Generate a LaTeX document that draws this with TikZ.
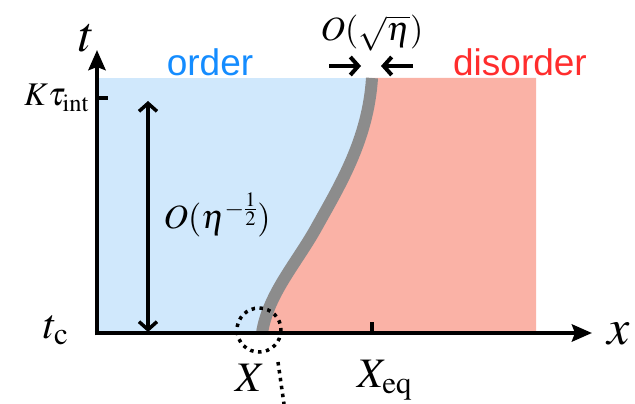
\documentclass[tikz,border=0pt]{standalone}
\usepackage{mathptmx}
\usepackage[no-math]{fontspec}
\setmainfont{Liberation Serif}
\newfontfamily\regionfont{Liberation Sans}
\usetikzlibrary{arrows.meta}
\definecolor{orderblue}{RGB}{208,232,252}
\definecolor{disorderpink}{RGB}{250,178,166}
\definecolor{ordertext}{RGB}{20,140,255}
\definecolor{disordertext}{RGB}{255,45,45}
\definecolor{boundgray}{RGB}{140,140,140}
\begin{document}
\begin{tikzpicture}[x=1pt,y=-1pt,
    axis/.style={line width=4.5pt,-{Stealth[length=20pt,width=17pt,inset=3pt]}},
    span/.style={line width=3.5pt,{Straight Barb[length=8pt,width=18pt]}-{Straight Barb[length=8pt,width=18pt]}},
    squeeze/.style={line width=4pt,-{Straight Barb[length=8pt,width=18pt]}},
    lbl/.style={font=\fontsize{34}{40}\selectfont,inner sep=0pt},
    biglbl/.style={font=\fontsize{42}{48}\selectfont,inner sep=0pt},
    axlbl/.style={font=\fontsize{50}{56}\selectfont,inner sep=0pt},
    region/.style={font=\regionfont\fontsize{37}{42}\selectfont,inner sep=0pt},
    dotline/.style={line width=3.5pt,dash pattern=on 3.5pt off 4.5pt}]
    \useasboundingbox (0,0) rectangle (635,404);
    % phases
    \fill[orderblue] (97,78) rectangle (372,333);
    \fill[disorderpink] (262,333) .. controls (268,295) and (295,265) .. (315,230)
        .. controls (340,185) and (368,140) .. (372,78) -- (536,78) -- (536,333) -- cycle;
    \draw[boundgray,line width=12pt] (262,333) .. controls (268,295) and (295,265) .. (315,230)
        .. controls (340,185) and (368,140) .. (372,78);
    % axes
    \coordinate (o) at (97,333);
    \coordinate (ytop) at (97,50);
    \coordinate (xend) at (592,333);
    \draw[axis] (97,335.25) -- (ytop);
    \draw[axis] (94.75,333) -- (xend);
    \draw[line width=4pt] (97,98) -- (108,98);
    \draw[line width=4pt] (372,333) -- (372,322);
    % labels
    \node[axlbl] (tlab) at (87,38) {$t$};
    \node[axlbl] (xlab) at (619,334) {$x$};
    \node[lbl,font=\fontsize{33}{38}\selectfont,anchor=base east] (ktau) at (89,106) {$K\tau_{\mathrm{int}}$};
    \node[biglbl] (tc) at (56,330) {$t_{\mathrm{c}}$};
    \node[biglbl] (xstar) at (250,378) {$X$};
    \node[biglbl] (xeq) at (385,380) {$X_{\mathrm{eq}}$};
    \node[region,text=ordertext] (order) at (210,62) {order};
    \node[region,text=disordertext] (disorder) at (520,62) {disorder};
    % widths
    \node[lbl] (width) at (372,33) {$O(\sqrt{\eta})$};
    \coordinate (wl) at (329,66);
    \coordinate (wr) at (413,66);
    \draw[squeeze] (wl) -- (361,66);
    \draw[squeeze] (wr) -- (381,66);
    \coordinate (sa) at (148,101);
    \coordinate (sb) at (148,332);
    \draw[span] (sa) -- (sb);
    \node[lbl] (dur) at (217,215) {$O(\eta^{-\frac{1}{2}})$};
    % zoom mark
    \draw[dotline] (259,330) circle (22);
    \draw[dotline] (278,362) -- (284,404);
\end{tikzpicture}
\end{document}
